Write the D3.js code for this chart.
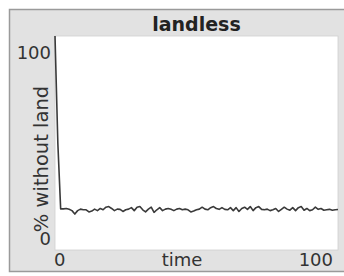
<!DOCTYPE html>
<html>
<head>
<meta charset="utf-8">
<script src="https://cdn.jsdelivr.net/npm/d3@7"></script>
<style>
  html, body { margin: 0; padding: 0; background: #ffffff; }
  svg { display: block; }
  text { font-family: "DejaVu Sans", sans-serif; fill: #333; }
</style>
</head>
<body>
<svg id="chart" width="344" height="276"></svg>
<script>
const title = "landless";
const xLabel = "time";
const yLabel = "% without land";
const xDomain = [0, 100];
const yDomain = [0, 100];
const xTickLabels = ["0", "100"];
const yTickLabels = ["0", "100"];
const landless = [
  100, 50, 19.2, 19.2, 19.4, 19, 18.4, 16.8, 18.4, 19.1, 18.8,
  18.8, 17.8, 18.2, 19.1, 18.4, 19.4, 18.8, 20, 20.3, 19.4,
  18.4, 19.1, 19, 18, 18.8, 19.1, 19.8, 18.4, 20, 20.3,
  18.8, 17.8, 19.1, 20, 17.6, 18.8, 19.8, 18.4, 19.1, 19.4,
  19, 18.4, 19.1, 19.4, 18.8, 19.1, 18.8, 17.8, 18.2, 18.8,
  19.1, 20, 19.1, 18.8, 19.8, 20.3, 19.4, 19, 19.8, 19,
  18.8, 19.8, 18.4, 19.8, 18, 19.4, 20, 19, 20.3, 18.4,
  19.8, 20.3, 19, 18.8, 19.1, 18.4, 18.8, 19.4, 18, 19,
  20, 19.1, 18.6, 19.8, 18.4, 19.8, 20.3, 18.6, 19.4, 18.4,
  18.8, 20, 19, 19.4, 18.6, 18.8, 19, 18.6, 18.8, 18.9
];

const svg = d3.select("#chart");
const panel = { x: 9.5, y: 9.5, w: 340, h: 262 };
const plot = { left: 55, right: 338, top: 36, bottom: 250 };

svg.append("rect").attr("x", panel.x).attr("y", panel.y)
  .attr("width", panel.w).attr("height", panel.h)
  .attr("fill", "#e2e2e2").attr("stroke", "#9a9a9a").attr("stroke-width", 1.5);

svg.append("rect").attr("x", plot.left).attr("y", plot.top)
  .attr("width", plot.right - plot.left).attr("height", plot.bottom - plot.top)
  .attr("fill", "#ffffff").attr("stroke", "#d0d0d0").attr("stroke-width", 0.8);

const x = d3.scaleLinear().domain(xDomain).range([plot.left, plot.right]);
const y = d3.scaleLinear().domain(yDomain).range([plot.bottom, plot.top]);

svg.append("text").attr("x", (plot.left + plot.right) / 2).attr("y", 31)
  .attr("text-anchor", "middle").attr("font-size", 19).attr("font-weight", "bold")
  .style("fill", "#222").text(title);

// y tick labels (min at bottom, max at top)
svg.append("text").attr("x", 51).attr("y", y(yDomain[1]) + 23)
  .attr("text-anchor", "end").attr("font-size", 18).text(yTickLabels[1]);
svg.append("text").attr("x", 51).attr("y", y(yDomain[0]) - 5)
  .attr("text-anchor", "end").attr("font-size", 18).text(yTickLabels[0]);

// x tick labels
svg.append("text").attr("x", x(xDomain[0]) - 1).attr("y", 266)
  .attr("text-anchor", "start").attr("font-size", 18).text(xTickLabels[0]);
svg.append("text").attr("x", x(xDomain[1]) - 5).attr("y", 266)
  .attr("text-anchor", "end").attr("font-size", 18).text(xTickLabels[1]);

svg.append("text").attr("x", 182).attr("y", 266)
  .attr("text-anchor", "middle").attr("font-size", 18).text(xLabel);

svg.append("text")
  .attr("transform", `translate(47.5, 159) rotate(-90)`)
  .attr("text-anchor", "middle").attr("font-size", 19.5).text(yLabel);

const line = d3.line().x((d, i) => x(i)).y(d => y(d));
svg.append("path").datum(landless).attr("d", line)
  .attr("fill", "none").attr("stroke", "#3a3a3a").attr("stroke-width", 1.6)
  .attr("stroke-linejoin", "round");
</script>
</body>
</html>
